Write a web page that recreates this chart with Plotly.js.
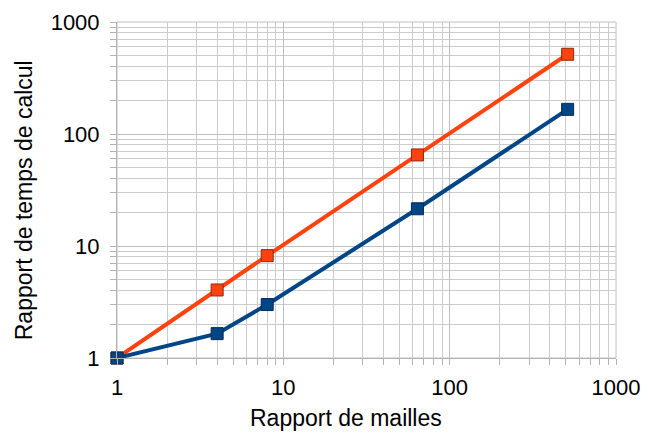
<!DOCTYPE html>
<html>
<head>
<meta charset="utf-8">
<script src="https://cdn.plot.ly/plotly-3.0.1.min.js"></script>
<style>html,body{margin:0;padding:0;background:#fff;}#chart{width:648px;height:435px;}</style>
</head>
<body>
<div id="chart"></div>
<script>
const meshRatio = [1, 4, 8, 64, 512];
const timeRatioA = [1, 1.65, 3, 21.5, 166];
const timeRatioB = [1, 4.05, 8.2, 65, 515];
const xTitle = "Rapport de mailles";
const yTitle = "Rapport de temps de calcul";
const colorA = "#004586";
const colorB = "#ff420e";

const traces = [
  {x: meshRatio, y: timeRatioB, type: "scatter", mode: "lines+markers", name: "B", cliponaxis: false,
   line: {color: colorB, width: 4},
   marker: {symbol: "square", size: 12, color: colorB, line: {color: "#8a2a10", width: 1}}},
  {x: meshRatio, y: timeRatioA, type: "scatter", mode: "lines+markers", name: "A", cliponaxis: false,
   line: {color: colorA, width: 4},
   marker: {symbol: "square", size: 12, color: colorA, line: {color: "#0a2a50", width: 1}}}
];

const axisCommon = {
  type: "log",
  showline: true, linecolor: "#b3b3b3", linewidth: 1, mirror: false,
  showgrid: true, gridcolor: "#c0c0c0", gridwidth: 1,
  ticks: "outside", ticklen: 6, tickcolor: "#b3b3b3", tickwidth: 1,
  dtick: 1, zeroline: false,
  tickfont: {family: "Liberation Sans, Arial, sans-serif", size: 22, color: "#000"},
  minor: {dtick: "D1", showgrid: true, gridcolor: "#cccccc", gridwidth: 1,
          ticks: "outside", ticklen: 6, tickcolor: "#b3b3b3"}
};

const layout = {
  width: 648, height: 435,
  margin: {l: 117, r: 32, t: 22, b: 77},
  paper_bgcolor: "#fff", plot_bgcolor: "#fff",
  showlegend: false,
  xaxis: Object.assign({}, axisCommon, {range: [0, 3], ticklabelstandoff: 4}),
  yaxis: Object.assign({}, axisCommon, {range: [0, 3], ticklabelstandoff: 6}),
  annotations: [
    {text: xTitle, xref: "paper", yref: "paper", x: 0.458, y: -0.135, yanchor: "top",
     xanchor: "center", showarrow: false,
     font: {family: "Liberation Sans, Arial, sans-serif", size: 23, color: "#000"}},
    {text: yTitle, xref: "paper", yref: "paper", x: -0.186, xanchor: "center", y: 0.47, yanchor: "middle",
     textangle: -90, showarrow: false,
     font: {family: "Liberation Sans, Arial, sans-serif", size: 23, color: "#000"}}
  ],
  shapes: [
    {type: "rect", xref: "paper", yref: "paper", x0: 0, x1: 1, y0: 0, y1: 1,
     line: {color: "#c0c0c0", width: 1}, layer: "below"}
  ]
};

Plotly.newPlot("chart", traces, layout, {displayModeBar: false, staticPlot: true});
</script>
</body>
</html>
